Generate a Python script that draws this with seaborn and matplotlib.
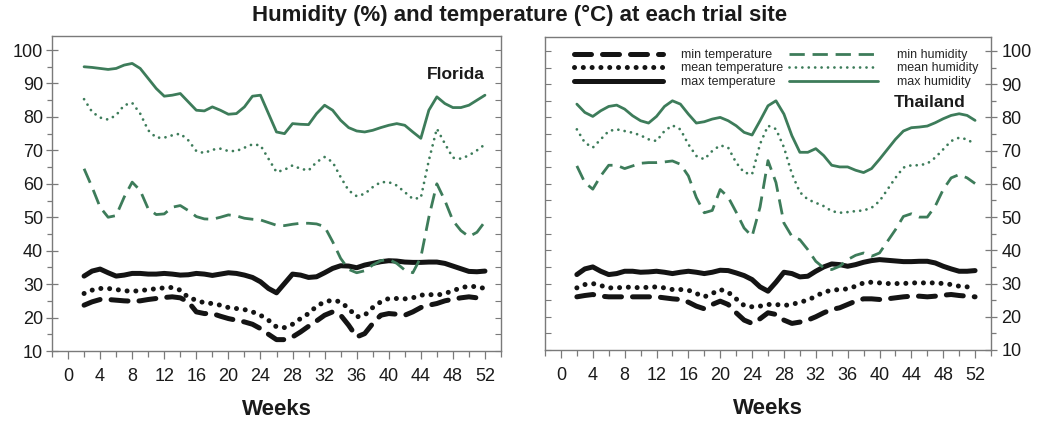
import matplotlib
matplotlib.use("Agg")
import matplotlib.pyplot as plt
import seaborn as sns
from matplotlib.lines import Line2D
from matplotlib.ticker import MultipleLocator

sns.set_style("ticks")
plt.rcParams['font.family'] = ['Liberation Sans', 'DejaVu Sans']

weeks = list(range(2, 53))

# ---------------- Florida ----------------
fl_max_hum = [95.0, 94.8, 94.5, 94.2, 94.5, 95.5, 96.0, 94.5, 91.5, 88.5,
              86.2, 86.5, 87.0, 84.5, 82.0, 81.8, 83.0, 82.0, 80.8, 81.0,
              83.0, 86.2, 86.5, 81.0, 75.5, 75.0, 78.0, 77.8, 77.7, 81.0,
              83.5, 82.0, 79.0, 76.8, 75.8, 75.5, 76.0, 76.8, 77.5, 78.0,
              77.5, 75.5, 73.6, 82.0, 86.0, 84.0, 82.8, 82.8, 83.5, 85.0, 86.5]
fl_mean_hum = [85.3, 81.5, 79.8, 79.2, 80.5, 83.5, 84.2, 81.0, 76.0, 73.8,
               73.8, 74.5, 75.0, 73.0, 69.8, 69.2, 70.2, 70.5, 69.8, 69.8,
               70.8, 71.8, 71.5, 67.5, 63.5, 64.2, 65.5, 64.5, 64.0, 66.5,
               68.0, 66.5, 62.0, 58.0, 56.3, 57.0, 59.0, 60.5, 60.5, 59.5,
               57.5, 55.5, 55.8, 67.0, 76.5, 72.0, 67.8, 67.5, 68.5, 70.0, 71.8]
fl_min_hum = [64.5, 59.0, 53.0, 50.0, 50.5, 56.0, 60.5, 58.0, 52.5, 50.8,
              51.0, 53.0, 53.5, 52.0, 50.2, 49.5, 49.4, 50.0, 50.7, 50.4,
              49.7, 49.4, 49.2, 48.4, 47.6, 47.5, 47.9, 48.2, 48.2, 48.0,
              47.2, 42.7, 37.7, 34.4, 33.4, 34.0, 35.7, 37.0, 37.4, 36.2,
              34.2, 33.4, 38.0, 50.0, 60.0, 55.0, 49.0, 46.0, 44.2, 45.5, 48.7]
fl_max_t = [32.4, 33.9, 34.5, 33.4, 32.4, 32.7, 33.2, 33.2, 33.0, 33.0,
            33.2, 33.0, 32.7, 32.8, 33.2, 33.0, 32.6, 33.0, 33.4, 33.2,
            32.7, 32.0, 30.7, 28.7, 27.4, 30.2, 33.0, 32.7, 32.0, 32.2,
            33.4, 34.7, 35.5, 35.4, 34.9, 35.7, 36.2, 36.7, 37.0, 36.9,
            36.6, 36.5, 36.5, 36.6, 36.6, 36.2, 35.4, 34.6, 33.8, 33.7, 33.9]
fl_mean_t = [27.2, 28.2, 28.7, 28.7, 28.4, 28.0, 27.9, 28.0, 28.4, 28.6,
             28.9, 29.0, 28.2, 26.0, 25.2, 24.4, 24.2, 23.7, 23.0, 22.7,
             22.4, 21.7, 20.7, 19.2, 17.2, 17.0, 18.0, 19.7, 21.2, 23.4,
             24.7, 25.2, 24.7, 22.7, 20.2, 20.7, 23.0, 24.7, 25.7, 25.7,
             25.6, 25.9, 26.7, 26.9, 26.7, 27.2, 28.0, 28.9, 29.4, 29.2, 28.7]
fl_min_t = [23.7, 24.7, 25.4, 25.4, 25.2, 25.0, 24.9, 25.0, 25.4, 25.7,
            26.0, 26.2, 25.9, 24.7, 21.7, 21.2, 21.2, 20.4, 19.7, 19.2,
            18.7, 18.0, 16.7, 15.0, 13.4, 13.4, 14.2, 15.7, 17.4, 19.0,
            20.7, 21.7, 20.7, 17.7, 14.2, 15.2, 18.2, 20.7, 21.2, 21.0,
            20.7, 21.7, 23.0, 23.7, 24.2, 25.0, 25.5, 25.9, 26.2, 25.9, 25.5]

# ---------------- Thailand ----------------
th_max_hum = [84.0, 81.5, 80.3, 82.0, 83.3, 83.7, 82.5, 80.5, 79.0, 78.3,
              80.3, 83.3, 85.0, 84.0, 81.0, 78.3, 78.7, 79.5, 80.0, 79.0,
              77.5, 75.5, 74.7, 79.0, 83.5, 85.0, 81.0, 74.5, 69.5, 69.5,
              70.6, 68.5, 65.6, 65.1, 65.1, 64.1, 63.4, 64.6, 67.4, 70.4,
              73.4, 75.9, 76.9, 77.1, 77.4, 78.4, 79.6, 80.6, 81.1, 80.6, 79.1]
th_mean_hum = [76.4, 72.4, 70.9, 73.4, 75.9, 76.4, 75.9, 75.4, 74.6, 73.4,
               72.9, 75.9, 77.6, 76.4, 71.9, 68.4, 67.4, 69.9, 71.6, 70.9,
               66.4, 63.4, 62.9, 72.0, 77.5, 76.5, 71.0, 63.0, 57.5, 55.3,
               54.3, 53.3, 51.8, 51.3, 51.5, 51.8, 52.0, 52.8, 54.8, 58.3,
               61.8, 64.9, 65.6, 65.6, 66.1, 67.9, 70.4, 72.9, 73.9, 73.4, 71.9]
th_min_hum = [65.4, 60.4, 58.4, 62.4, 65.6, 65.6, 64.6, 65.4, 66.2, 66.4,
              66.4, 66.6, 66.9, 65.9, 62.4, 55.9, 51.3, 52.0, 58.3, 56.0,
              51.5, 46.7, 44.2, 53.0, 67.0, 60.4, 48.2, 44.2, 43.2, 40.2,
              36.7, 34.7, 34.2, 35.2, 37.2, 38.5, 39.2, 38.2, 39.2, 42.7,
              46.2, 50.2, 51.0, 50.0, 50.0, 53.3, 58.3, 61.8, 62.8, 61.8, 60.1]
th_max_t = [32.7, 34.4, 35.0, 33.7, 32.7, 33.0, 33.7, 33.7, 33.4, 33.5,
            33.7, 33.4, 33.0, 33.4, 33.7, 33.4, 33.0, 33.4, 34.0, 33.9,
            33.2, 32.4, 31.2, 29.0, 27.7, 30.4, 33.4, 33.0, 32.0, 32.2,
            33.7, 35.0, 35.9, 35.7, 35.2, 35.7, 36.4, 36.9, 37.2, 37.0,
            36.8, 36.6, 36.6, 36.7, 36.7, 36.2, 35.2, 34.4, 33.7, 33.7, 33.9]
th_mean_t = [28.7, 29.7, 30.0, 29.4, 28.7, 28.7, 28.9, 28.9, 28.7, 28.9,
             29.0, 28.7, 28.2, 28.2, 28.0, 27.0, 26.0, 27.0, 28.2, 27.4,
             25.4, 23.4, 23.0, 23.2, 23.7, 23.7, 23.4, 23.7, 24.4, 25.0,
             26.2, 27.4, 28.0, 28.2, 28.4, 29.2, 30.2, 30.4, 30.2, 30.0,
             30.0, 30.0, 30.2, 30.2, 30.2, 30.2, 30.0, 29.7, 29.2, 29.0, 29.0]
th_min_t = [26.0, 26.4, 26.7, 26.2, 26.0, 26.0, 26.0, 26.0, 26.0, 26.0,
            26.0, 25.7, 25.4, 25.2, 24.4, 23.2, 22.4, 23.7, 24.7, 23.7,
            21.2, 19.0, 18.0, 19.4, 21.2, 20.7, 19.0, 18.0, 18.4, 19.0,
            20.0, 21.2, 22.2, 22.7, 23.7, 24.7, 25.4, 25.4, 25.2, 25.4,
            25.7, 26.0, 26.2, 26.2, 26.0, 26.2, 26.5, 26.7, 26.4, 26.2, 26.0]

series_labels = ["min temperature", "mean temperature", "max temperature",
                 "min humidity", "mean humidity", "max humidity"]
site_names = ["Florida", "Thailand"]
title = "Humidity (%) and temperature (\u00b0C) at each trial site"

GREEN = '#3d7c5a'
BLACK = '#141414'
GRAY = '#7a7a7a'
TXT = '#1a1a1a'

styles = [
    dict(color=BLACK, linewidth=3.6, linestyle=(0, (3.4, 2.2)),
         dash_capstyle='round', solid_capstyle='round'),
    dict(color=BLACK, linewidth=3.6, linestyle=(0, (0.01, 1.75)),
         dash_capstyle='round', solid_capstyle='round'),
    dict(color=BLACK, linewidth=3.6, linestyle='-',
         dash_capstyle='round', solid_capstyle='round'),
    dict(color=GREEN, linewidth=2.0, linestyle=(0, (5.5, 2.8)),
         dash_capstyle='butt', solid_capstyle='round'),
    dict(color=GREEN, linewidth=2.0, linestyle=(0, (0.01, 2.3)),
         dash_capstyle='round', solid_capstyle='round'),
    dict(color=GREEN, linewidth=2.0, linestyle='-',
         dash_capstyle='round', solid_capstyle='round'),
]

fig = plt.figure(figsize=(10.39, 4.25), dpi=100)
axL = fig.add_axes([52 / 1039, 74 / 425, 449 / 1039, 315 / 425])
axR = fig.add_axes([545 / 1039, 75 / 425, 446 / 1039, 313 / 425])

site_data = [
    [fl_min_t, fl_mean_t, fl_max_t, fl_min_hum, fl_mean_hum, fl_max_hum],
    [th_min_t, th_mean_t, th_max_t, th_min_hum, th_mean_hum, th_max_hum],
]

for ax, data in zip([axL, axR], site_data):
    for vals, st in zip(data, styles):
        sns.lineplot(x=weeks, y=vals, ax=ax, **st)
    ax.set_xlim(-2, 54)
    ax.set_ylim(10, 104.2)
    ax.xaxis.set_major_locator(MultipleLocator(4))
    ax.xaxis.set_minor_locator(MultipleLocator(2))
    ax.set_yticks(range(10, 101, 10))
    ax.yaxis.set_minor_locator(MultipleLocator(5))
    ax.tick_params(axis='both', which='both', width=0.9, color=GRAY,
                   labelsize=13, labelcolor=TXT)
    ax.tick_params(axis='x', which='major', direction='out', length=6, pad=6)
    ax.tick_params(axis='x', which='minor', direction='out', length=4)
    ax.tick_params(axis='y', which='major', direction='inout', length=9)
    ax.tick_params(axis='y', which='minor', direction='out', length=3.5)
    for sp in ax.spines.values():
        sp.set_visible(True)
        sp.set_color(GRAY)
        sp.set_linewidth(1.0)
    ax.set_xlabel("Weeks", fontsize=16, fontweight='bold', labelpad=10,
                  color=TXT)
    ax.set_ylabel("")

# left panel: labels on the left, small inner ticks on the right
axL.tick_params(axis='y', which='both', pad=2)
secL = axL.secondary_yaxis('right')
secL.set_yticks(range(10, 101, 5))
secL.tick_params(direction='in', length=4, color=GRAY, labelright=False)
secL.spines['right'].set_visible(False)

# right panel: labels on the right, small inner ticks on the left
axR.yaxis.tick_right()
axR.tick_params(axis='y', which='both', left=False, right=True, pad=3)
secR = axR.secondary_yaxis('left')
secR.set_yticks(range(10, 101, 5))
secR.tick_params(direction='in', length=4, color=GRAY, labelleft=False)
secR.spines['left'].set_visible(False)

axL.text(52, 92.7, site_names[0], ha='right', va='center', fontsize=12.5,
         fontweight='bold', color=TXT)
axR.text(50.8, 84.5, site_names[1], ha='right', va='center', fontsize=12.5,
         fontweight='bold', color=TXT)

handles = [Line2D([], [], **st) for st in styles]
axR.legend(handles, series_labels, ncol=2, loc='upper left',
           bbox_to_anchor=(0.065, 0.962), frameon=False, fontsize=9,
           handlelength=7.1, handletextpad=1.5, columnspacing=0.45,
           labelspacing=0.12, borderpad=0, borderaxespad=0,
           prop={'size': 9})

fig.suptitle(title, x=0.5, y=1 - 15 / 425, va='center', fontsize=16,
             fontweight='bold', color=TXT)

fig.savefig("out.png", dpi=100)
